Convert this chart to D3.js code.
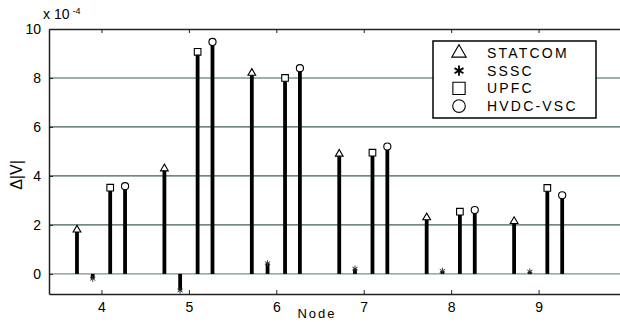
<!DOCTYPE html>
<html>
<head>
<meta charset="utf-8">
<script src="https://cdn.jsdelivr.net/npm/d3@7/dist/d3.min.js"></script>
<style>
    body { margin: 0; background: #fff; }
    text { font-family: "Liberation Sans", Arial, sans-serif; fill: #000; }
</style>
</head>
<body>
<script>
// Data (values in units of 1e-4)
var nodes = [4, 5, 6, 7, 8, 9];
var statcom = [1.8, 4.3, 8.2, 4.9, 2.3, 2.15];
var sssc = [-0.2, -0.68, 0.44, 0.22, 0.13, 0.1];
var upfc = [3.52, 9.07, 8.0, 4.95, 2.54, 3.51];
var hvdc = [3.58, 9.47, 8.4, 5.2, 2.61, 3.21];
var seriesNames = ["STATCOM", "SSSC", "UPFC", "HVDC-VSC"];
var yTicks = [0, 2, 4, 6, 8, 10];

// Offset of each device's stem from the node position (x units)
var shift = [-0.28, -0.1, 0.1, 0.27];
var symbols = [d3.symbolTriangle, d3.symbolAsterisk, d3.symbolSquare,
               d3.symbolCircle];
var plotSize = [26, 26, 44, 40];
var legendSize = [90, 75, 150, 125];

var W = 620, H = 322;
var margin = {left: 49, top: 29, right: -6, bottom: 28};

var svg = d3.select("body").append("svg")
    .attr("width", W)
    .attr("height", H);

var x = d3.scaleLinear()
    .domain([3.4, 10])
    .range([margin.left, W - margin.right]);
var y = d3.scaleLinear()
    .domain([-0.82, 10])
    .range([H - margin.bottom, margin.top]);

//Horizontal grid lines
svg.append("g").selectAll("line")
    .data(yTicks.filter(function(d) { return d < 10; }))
    .enter().append("line")
    .attr("x1", x(3.4))
    .attr("x2", x(10))
    .attr("y1", function(d) { return y(d); })
    .attr("y2", function(d) { return y(d); })
    .attr("stroke", function(d) { return d === 0 ? "#7d918a" : "#3f6259"; })
    .attr("stroke-width", 1.2);

//Axes
var leftAx = svg.append("g")
    .attr("transform", "translate(" + x(3.4) + ",0)")
    .call(d3.axisLeft(y).tickValues(yTicks).tickFormat(d3.format("d"))
        .tickSizeInner(-4).tickSizeOuter(0).tickPadding(8));
var bottomAx = svg.append("g")
    .attr("transform", "translate(0," + y(-0.82) + ")")
    .call(d3.axisBottom(x).tickValues(nodes).tickFormat(d3.format("d"))
        .tickSizeInner(-4).tickSizeOuter(0).tickPadding(8));
var topAx = svg.append("g")
    .attr("transform", "translate(0," + y(10) + ")")
    .call(d3.axisTop(x).tickValues(nodes).tickFormat("")
        .tickSizeInner(-4).tickSizeOuter(0));

[leftAx, bottomAx, topAx].forEach(function(g) {
    g.select(".domain").attr("stroke", "#222").attr("stroke-width", 1.5);
    g.selectAll(".tick line").attr("stroke", "#222");
    g.selectAll(".tick text")
        .style("font-family", "'Liberation Sans', Arial, sans-serif")
        .style("font-size", "14px")
        .attr("fill", "#000");
});

//Stems and markers
var all = [statcom, sssc, upfc, hvdc];
all.forEach(function(vals, s) {
    var pts = nodes.map(function(n, i) {
        return {x: n + shift[s], v: vals[i]};
    });
    var g = svg.append("g");
    g.selectAll("line")
        .data(pts)
        .enter().append("line")
        .attr("x1", function(d) { return x(d.x); })
        .attr("x2", function(d) { return x(d.x); })
        .attr("y1", y(0))
        .attr("y2", function(d) { return y(d.v); })
        .attr("stroke", "#000")
        .attr("stroke-width", 3.8);
    g.selectAll("path")
        .data(pts)
        .enter().append("path")
        .attr("transform", function(d) {
            return "translate(" + x(d.x) + "," + y(d.v) + ")";
        })
        .attr("d", d3.symbol().type(symbols[s]).size(plotSize[s]))
        .attr("fill", s === 1 ? "#333" : "#fff")
        .attr("stroke", s === 1 ? "#333" : "#000")
        .attr("stroke-width", s === 1 ? 0.9 : 1.1);
});

//Axis labels
var ex = svg.append("text")
    .attr("x", 43)
    .attr("y", 19)
    .style("font-size", "14px");
ex.append("tspan").text("x 10");
ex.append("tspan")
    .attr("dx", 3)
    .attr("dy", -5)
    .style("font-size", "9px")
    .text("-4");

svg.append("text")
    .attr("transform", "translate(22,175) rotate(-90)")
    .attr("text-anchor", "middle")
    .style("font-size", "16px")
    .text("\u0394|V|");

svg.append("text")
    .attr("x", 317)
    .attr("y", 318)
    .attr("text-anchor", "middle")
    .style("font-size", "13px")
    .style("letter-spacing", "2px")
    .text("Node");

//Legend
var legend = svg.append("g")
    .attr("transform", "translate(433,41)");
legend.append("rect")
    .attr("width", 163)
    .attr("height", 77)
    .attr("fill", "#fff")
    .attr("stroke", "#000")
    .attr("stroke-width", 1.5);
var rows = legend.selectAll("g.row")
    .data(seriesNames)
    .enter().append("g")
    .attr("class", "row")
    .attr("transform", function(d, i) {
        return "translate(0," + (12 + i * 17.7) + ")";
    });
rows.append("path")
    .attr("transform", "translate(26,0)")
    .attr("d", function(d, i) {
        return d3.symbol().type(symbols[i]).size(legendSize[i])();
    })
    .attr("fill", function(d, i) { return i === 1 ? "#000" : "#fff"; })
    .attr("stroke", "#000")
    .attr("stroke-width", function(d, i) { return i === 1 ? 1.8 : 1.1; });
rows.append("text")
    .attr("x", 54)
    .attr("y", 5)
    .style("font-size", "14px")
    .style("letter-spacing", "2.2px")
    .text(function(d) { return d; });
</script>
</body>
</html>
